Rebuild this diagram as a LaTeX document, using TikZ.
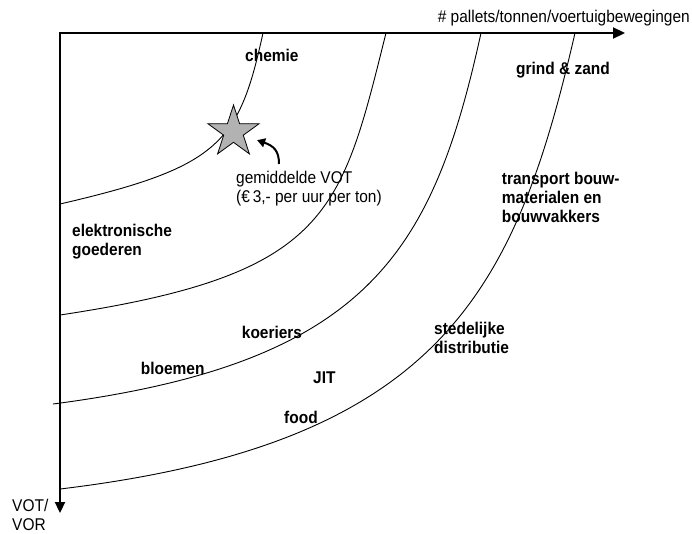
\documentclass[tikz,border=0pt]{standalone}
\usepackage{fontspec}
\setmainfont{Liberation Sans}[FakeStretch=0.91]
\usetikzlibrary{arrows.meta,shapes.geometric}

\begin{document}
\begin{tikzpicture}[x=1pt,y=-1pt,
  axis/.style={line width=2.2pt, line join=miter,
    {Triangle[length=11pt,width=10pt]}-{Triangle[length=12pt,width=11pt]}},
  curve/.style={line width=0.9pt},
  tag/.style={font=\fontsize{17}{19}\selectfont\bfseries, inner sep=0pt, anchor=west, align=left},
  note/.style={font=\fontsize{17}{19.5}\selectfont, inner sep=0pt, align=left},
  pointer/.style={line width=2pt, -{Triangle[length=8pt,width=9pt]}}]
\useasboundingbox (0,0) rectangle (692,533);

% axes
\coordinate (origin) at (60,33);
\coordinate (xend) at (625,33);
\coordinate (yend) at (60,513);
\draw[axis] (yend) -- (origin) -- (xend);

% iso-curves
\draw[curve] (263,33) .. controls (239,143) and (220,167) .. (60,204);
\draw[curve] (386,33) .. controls (341,213) and (330,274.5) .. (60,315);
\draw[curve] (481,33) .. controls (432.6,253) and (368,363) .. (53,404);
\draw[curve] (575,33) .. controls (515,293) and (440,443.4) .. (60,489);

% average value marker
\node[star, star points=5, star point ratio=2.618, minimum size=54pt, inner sep=0pt,
      fill=black!30, draw, line width=0.8pt] (star) at (233.5,132) {};

% axis labels
\node[note, anchor=east] (xlabel) at (690,18) {\# pallets/tonnen/voertuigbewegingen};
\node[note, anchor=west] (ylabel) at (12,515) {VOT/\\VOR};

% sector labels
\node[tag] (chemie) at (245,55) {chemie};
\node[tag] (grind) at (516,70) {grind \& zand};
\node[tag] (bouw) at (501.7,197) {transport bouw-\\materialen en\\bouwvakkers};
\node[tag] (elek) at (72,241.5) {elektronische\\goederen};
\node[tag] (koer) at (241.7,332) {koeriers};
\node[tag] (bloem) at (140.7,368) {bloemen};
\node[tag] (jit) at (313,378) {JIT};
\node[tag] (food) at (284,417) {food};
\node[tag] (sted) at (434,338) {stedelijke\\distributie};

% average value note with pointer
\node[note, anchor=west] (vot) at (236,188.5) {gemiddelde VOT\\(€\,3,- per uur per ton)};
\coordinate (tail) at (279,164);
\draw[pointer, shorten >=14pt] (tail) .. controls (279,151) and (274,146) .. (star);
\end{tikzpicture}
\end{document}
